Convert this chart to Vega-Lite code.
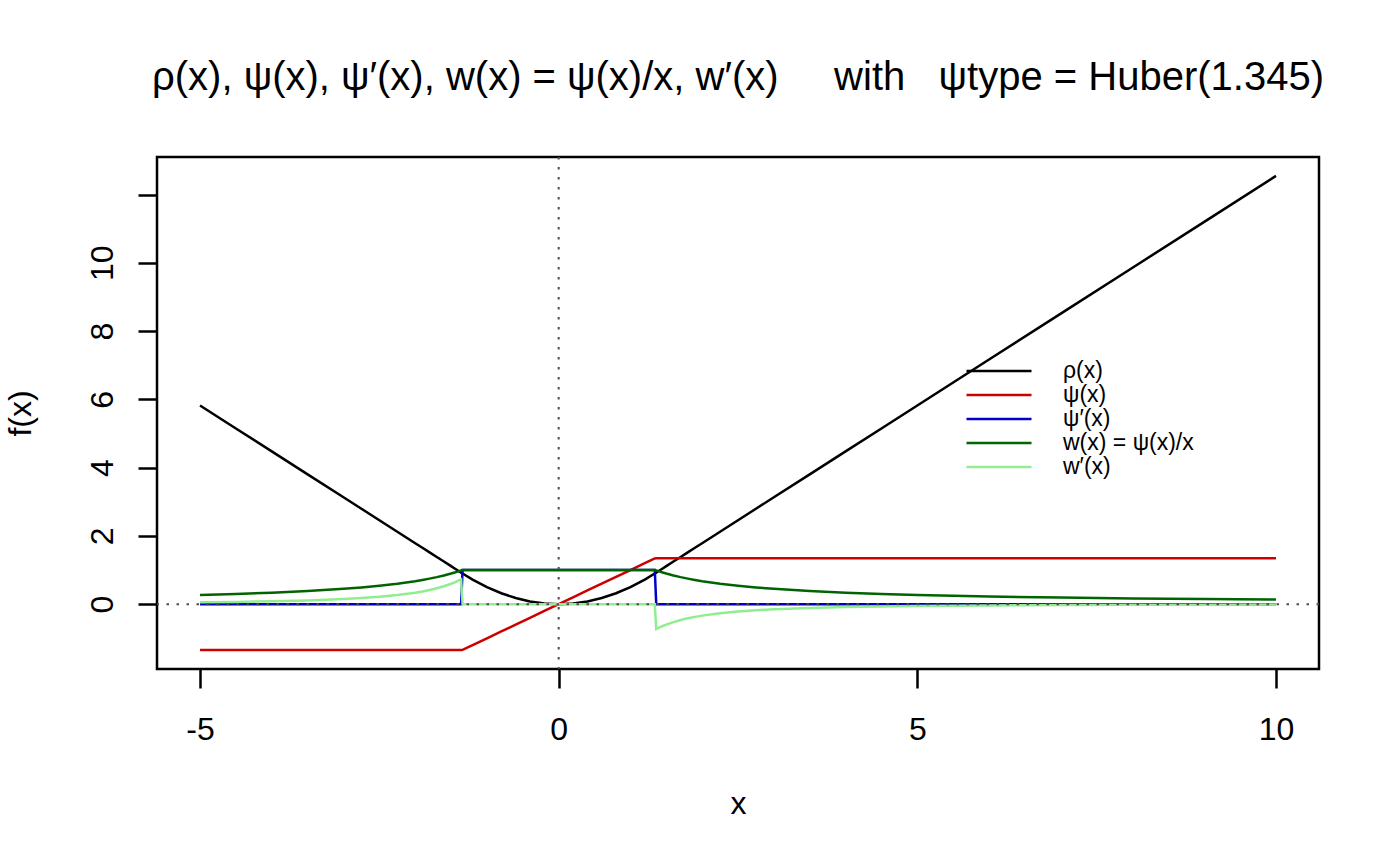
{
  "$schema": "https://vega.github.io/schema/vega-lite/v6.json",
  "width": 1162,
  "height": 512,
  "autosize": {"type": "none"},
  "padding": {"left": 157, "top": 157, "right": 81, "bottom": 197},
  "background": "white",
  "config": {
    "font": "Liberation Sans",
    "view": {"stroke": "black", "strokeWidth": 2.5}
  },
  "title": {
    "text": "ρ(x), ψ(x), ψ′(x), w(x) = ψ(x)/x, w′(x)\u00a0\u00a0\u00a0\u00a0\u00a0with\u00a0\u00a0\u00a0ψtype = Huber(1.345)",
    "fontSize": 40,
    "fontWeight": "normal",
    "font": "Liberation Sans",
    "color": "black",
    "anchor": "middle",
    "baseline": "alphabetic",
    "offset": 26
  },
  "layer": [
    {
      "data": {
        "values": [
          {"x": -5, "rho": 5.8205, "psi": -1.345, "dpsi": 0, "w": 0.269, "dw": 0.0538},
          {"x": -4.5, "rho": 5.148, "psi": -1.345, "dpsi": 0, "w": 0.2989, "dw": 0.0664},
          {"x": -4, "rho": 4.4755, "psi": -1.345, "dpsi": 0, "w": 0.3363, "dw": 0.0841},
          {"x": -3.5, "rho": 3.803, "psi": -1.345, "dpsi": 0, "w": 0.3843, "dw": 0.1098},
          {"x": -3, "rho": 3.1305, "psi": -1.345, "dpsi": 0, "w": 0.4483, "dw": 0.1494},
          {"x": -2.75, "rho": 2.7942, "psi": -1.345, "dpsi": 0, "w": 0.4891, "dw": 0.1779},
          {"x": -2.5, "rho": 2.458, "psi": -1.345, "dpsi": 0, "w": 0.538, "dw": 0.2152},
          {"x": -2.25, "rho": 2.1217, "psi": -1.345, "dpsi": 0, "w": 0.5978, "dw": 0.2657},
          {"x": -2, "rho": 1.7855, "psi": -1.345, "dpsi": 0, "w": 0.6725, "dw": 0.3363},
          {"x": -1.9, "rho": 1.651, "psi": -1.345, "dpsi": 0, "w": 0.7079, "dw": 0.3726},
          {"x": -1.8, "rho": 1.5165, "psi": -1.345, "dpsi": 0, "w": 0.7472, "dw": 0.4151},
          {"x": -1.7, "rho": 1.382, "psi": -1.345, "dpsi": 0, "w": 0.7912, "dw": 0.4654},
          {"x": -1.6, "rho": 1.2475, "psi": -1.345, "dpsi": 0, "w": 0.8406, "dw": 0.5254},
          {"x": -1.5, "rho": 1.113, "psi": -1.345, "dpsi": 0, "w": 0.8967, "dw": 0.5978},
          {"x": -1.45, "rho": 1.0457, "psi": -1.345, "dpsi": 0, "w": 0.9276, "dw": 0.6397},
          {"x": -1.4, "rho": 0.9785, "psi": -1.345, "dpsi": 0, "w": 0.9607, "dw": 0.6862},
          {"x": -1.36, "rho": 0.9247, "psi": -1.345, "dpsi": 0, "w": 0.989, "dw": 0.7272},
          {"x": -1.34, "rho": 0.8978, "psi": -1.34, "dpsi": 1, "w": 1, "dw": 0},
          {"x": -1.2, "rho": 0.72, "psi": -1.2, "dpsi": 1, "w": 1, "dw": 0},
          {"x": -1, "rho": 0.5, "psi": -1, "dpsi": 1, "w": 1, "dw": 0},
          {"x": -0.8, "rho": 0.32, "psi": -0.8, "dpsi": 1, "w": 1, "dw": 0},
          {"x": -0.6, "rho": 0.18, "psi": -0.6, "dpsi": 1, "w": 1, "dw": 0},
          {"x": -0.4, "rho": 0.08, "psi": -0.4, "dpsi": 1, "w": 1, "dw": 0},
          {"x": -0.2, "rho": 0.02, "psi": -0.2, "dpsi": 1, "w": 1, "dw": 0},
          {"x": 0, "rho": 0, "psi": 0, "dpsi": 1, "w": 1, "dw": 0},
          {"x": 0.2, "rho": 0.02, "psi": 0.2, "dpsi": 1, "w": 1, "dw": 0},
          {"x": 0.4, "rho": 0.08, "psi": 0.4, "dpsi": 1, "w": 1, "dw": 0},
          {"x": 0.6, "rho": 0.18, "psi": 0.6, "dpsi": 1, "w": 1, "dw": 0},
          {"x": 0.8, "rho": 0.32, "psi": 0.8, "dpsi": 1, "w": 1, "dw": 0},
          {"x": 1, "rho": 0.5, "psi": 1, "dpsi": 1, "w": 1, "dw": 0},
          {"x": 1.2, "rho": 0.72, "psi": 1.2, "dpsi": 1, "w": 1, "dw": 0},
          {"x": 1.34, "rho": 0.8978, "psi": 1.34, "dpsi": 1, "w": 1, "dw": 0},
          {"x": 1.36, "rho": 0.9247, "psi": 1.345, "dpsi": 0, "w": 0.989, "dw": -0.7272},
          {"x": 1.4, "rho": 0.9785, "psi": 1.345, "dpsi": 0, "w": 0.9607, "dw": -0.6862},
          {"x": 1.45, "rho": 1.0457, "psi": 1.345, "dpsi": 0, "w": 0.9276, "dw": -0.6397},
          {"x": 1.5, "rho": 1.113, "psi": 1.345, "dpsi": 0, "w": 0.8967, "dw": -0.5978},
          {"x": 1.6, "rho": 1.2475, "psi": 1.345, "dpsi": 0, "w": 0.8406, "dw": -0.5254},
          {"x": 1.7, "rho": 1.382, "psi": 1.345, "dpsi": 0, "w": 0.7912, "dw": -0.4654},
          {"x": 1.8, "rho": 1.5165, "psi": 1.345, "dpsi": 0, "w": 0.7472, "dw": -0.4151},
          {"x": 1.9, "rho": 1.651, "psi": 1.345, "dpsi": 0, "w": 0.7079, "dw": -0.3726},
          {"x": 2, "rho": 1.7855, "psi": 1.345, "dpsi": 0, "w": 0.6725, "dw": -0.3363},
          {"x": 2.25, "rho": 2.1217, "psi": 1.345, "dpsi": 0, "w": 0.5978, "dw": -0.2657},
          {"x": 2.5, "rho": 2.458, "psi": 1.345, "dpsi": 0, "w": 0.538, "dw": -0.2152},
          {"x": 2.75, "rho": 2.7942, "psi": 1.345, "dpsi": 0, "w": 0.4891, "dw": -0.1779},
          {"x": 3, "rho": 3.1305, "psi": 1.345, "dpsi": 0, "w": 0.4483, "dw": -0.1494},
          {"x": 3.5, "rho": 3.803, "psi": 1.345, "dpsi": 0, "w": 0.3843, "dw": -0.1098},
          {"x": 4, "rho": 4.4755, "psi": 1.345, "dpsi": 0, "w": 0.3363, "dw": -0.0841},
          {"x": 4.5, "rho": 5.148, "psi": 1.345, "dpsi": 0, "w": 0.2989, "dw": -0.0664},
          {"x": 5, "rho": 5.8205, "psi": 1.345, "dpsi": 0, "w": 0.269, "dw": -0.0538},
          {"x": 6, "rho": 7.1655, "psi": 1.345, "dpsi": 0, "w": 0.2242, "dw": -0.0374},
          {"x": 7, "rho": 8.5105, "psi": 1.345, "dpsi": 0, "w": 0.1921, "dw": -0.0274},
          {"x": 8, "rho": 9.8555, "psi": 1.345, "dpsi": 0, "w": 0.1681, "dw": -0.021},
          {"x": 9, "rho": 11.2005, "psi": 1.345, "dpsi": 0, "w": 0.1494, "dw": -0.0166},
          {"x": 10, "rho": 12.5455, "psi": 1.345, "dpsi": 0, "w": 0.1345, "dw": -0.0135}
        ]
      },
      "transform": [{"fold": ["rho", "psi", "dpsi", "w", "dw"], "as": ["fn", "value"]}],
      "mark": {"type": "line", "strokeWidth": 2.5},
      "encoding": {
        "x": {
          "field": "x",
          "type": "quantitative",
          "scale": {"domain": [-5.6, 10.6], "nice": false, "zero": false},
          "axis": {
            "title": "x",
            "values": [-5, 0, 5, 10],
            "grid": false,
            "domain": false,
            "tickSize": 19,
            "tickWidth": 2.5,
            "tickColor": "black",
            "labelFontSize": 32,
            "labelColor": "black",
            "labelPadding": 51,
            "labelBaseline": "alphabetic",
            "labelFlush": false,
            "labelOverlap": false,
            "labelExpr": "datum.value < 0 ? '-' + abs(datum.value) : '' + datum.value",
            "titleFontSize": 32,
            "titleFontWeight": "normal",
            "titleColor": "black",
            "titleY": 144,
            "titleBaseline": "alphabetic"
          }
        },
        "y": {
          "field": "value",
          "type": "quantitative",
          "scale": {"domain": [-1.9, 13.1], "nice": false, "zero": false},
          "axis": {
            "title": "f(x)",
            "values": [0, 2, 4, 6, 8, 10, 12],
            "grid": false,
            "domain": false,
            "tickSize": 19,
            "tickWidth": 2.5,
            "tickColor": "black",
            "labelFontSize": 32,
            "labelColor": "black",
            "labelAngle": -90,
            "labelAlign": "center",
            "labelBaseline": "alphabetic",
            "labelPadding": 26,
            "labelOverlap": false,
            "labelExpr": "datum.value == 12 ? '' : datum.label",
            "titleFontSize": 32,
            "titleFontWeight": "normal",
            "titleColor": "black",
            "titleAngle": -90,
            "titleX": -127,
            "titleY": 256,
            "titleAlign": "center",
            "titleBaseline": "alphabetic"
          }
        },
        "color": {
          "field": "fn",
          "type": "nominal",
          "scale": {
            "domain": ["rho", "psi", "dpsi", "w", "dw"],
            "range": ["black", "#CD0000", "#0000CD", "#006400", "#90EE90"]
          },
          "legend": {
            "orient": "none",
            "legendX": 808,
            "legendY": 202,
            "title": null,
            "symbolType": "stroke",
            "symbolSize": 4225,
            "symbolStrokeWidth": 2.5,
            "clipHeight": 24,
            "labelFontSize": 23,
            "labelFont": "Liberation Sans",
            "labelColor": "black",
            "labelOffset": 30,
            "labelLimit": 600,
            "rowPadding": 0,
            "padding": 0,
            "labelExpr": "datum.value == 'rho' ? 'ρ(x)' : datum.value == 'psi' ? 'ψ(x)' : datum.value == 'dpsi' ? 'ψ′(x)' : datum.value == 'w' ? 'w(x) = ψ(x)/x' : 'w′(x)'"
          }
        }
      }
    },
    {
      "data": {"values": [{"v": 0}]},
      "mark": {"type": "rule", "color": "#4D4D4D", "strokeWidth": 2, "strokeDash": [2.5, 7.5]},
      "encoding": {"x": {"field": "v", "type": "quantitative", "title": "x"}}
    },
    {
      "data": {"values": [{"v": 0}]},
      "mark": {"type": "rule", "color": "#4D4D4D", "strokeWidth": 2, "strokeDash": [2.5, 7.5]},
      "encoding": {"y": {"field": "v", "type": "quantitative", "title": "f(x)"}}
    }
  ]
}
